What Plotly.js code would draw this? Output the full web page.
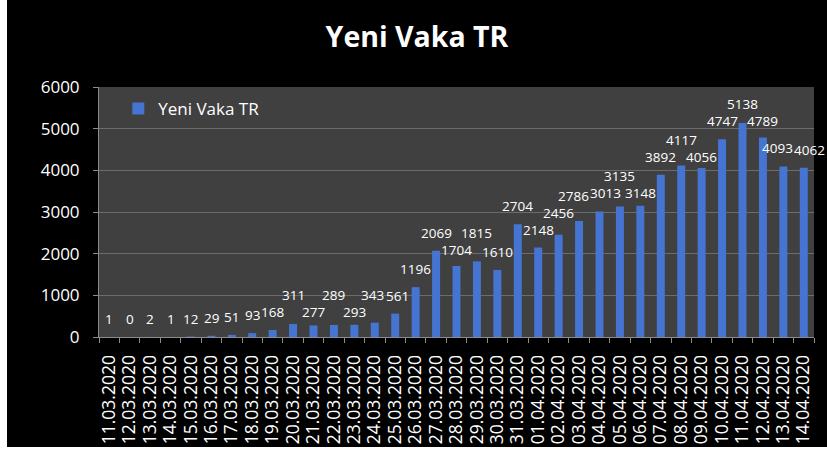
<!DOCTYPE html>
<html>
<head>
<meta charset="utf-8">
<script src="https://cdn.plot.ly/plotly-3.0.1.min.js"></script>
<style>
  html, body { margin: 0; padding: 0; background: #ffffff; width: 827px; height: 451px; overflow: hidden; }
  #chart { position: absolute; left: 7px; top: 0; width: 820px; height: 447px; }
</style>
</head>
<body>
<div id="chart"></div>
<script>
const dates = ["11.03.2020","12.03.2020","13.03.2020","14.03.2020","15.03.2020","16.03.2020","17.03.2020","18.03.2020","19.03.2020","20.03.2020","21.03.2020","22.03.2020","23.03.2020","24.03.2020","25.03.2020","26.03.2020","27.03.2020","28.03.2020","29.03.2020","30.03.2020","31.03.2020","01.04.2020","02.04.2020","03.04.2020","04.04.2020","05.04.2020","06.04.2020","07.04.2020","08.04.2020","09.04.2020","10.04.2020","11.04.2020","12.04.2020","13.04.2020","14.04.2020"];
const newCases = [1,0,2,1,12,29,51,93,168,311,277,289,293,343,561,1196,2069,1704,1815,1610,2704,2148,2456,2786,3013,3135,3148,3892,4117,4056,4747,5138,4789,4093,4062];
const seriesName = "Yeni Vaka TR";
const chartTitle = "Yeni Vaka TR";
const yTicks = [0,1000,2000,3000,4000,5000,6000];

const FONT = "'Open Sans', 'Noto Sans', sans-serif";
const Y_MAX = 6000;

// geometry used only to keep data labels from colliding (like Excel's label placement)
const PLOT_W = 820 - 92 - 13;
const PLOT_H = 447 - 87 - 110;
const catStep = PLOT_W / dates.length;
const DIGIT_W = 7.8, MIN_GAP = 17, DEFAULT_SHIFT = 8, MIN_SHIFT = -1, MAX_RAISE = 12;

const placed = [];
newCases.forEach((v, i) => {
  const p = v / Y_MAX * PLOT_H;
  const w = String(v).length * DIGIT_W;
  const def = p + DEFAULT_SHIFT;
  let b = def, xs = 0;
  const prev = placed[i - 1];
  if (prev) {
    const hOver = (w + prev.w) / 2 - (catStep + xs - prev.xs);
    if (hOver > 0 && Math.abs(b - prev.b) < MIN_GAP) {
      if (prev.b - MIN_GAP >= p + MIN_SHIFT) {
        b = prev.b - MIN_GAP;                     // tuck below the previous label
      } else if (Math.max(b, prev.b + MIN_GAP) - def <= MAX_RAISE || prev.xs !== 0) {
        b = Math.max(b, prev.b + MIN_GAP);        // lift above the previous label
      } else {
        const d = hOver + 1;                      // spread the two labels sideways
        prev.xs = -d / 2;
        xs = d / 2;
      }
    }
  }
  placed.push({ p: p, b: b, w: w, xs: xs });
});

const trace = {
  type: "bar",
  x: dates,
  y: newCases,
  name: seriesName,
  marker: { color: "#4674d2", line: { width: 0 } },
  hoverinfo: "x+y"
};

const labels = dates.map((d, i) => ({
  x: d,
  y: newCases[i],
  xref: "x", yref: "y",
  text: String(newCases[i]),
  showarrow: false,
  yanchor: "bottom",
  yshift: placed[i].b - placed[i].p,
  xshift: placed[i].xs,
  borderpad: 0,
  font: { family: FONT, size: 13.5, color: "#ffffff" }
}));

const layout = {
  width: 820,
  height: 447,
  paper_bgcolor: "#000000",
  plot_bgcolor: "#404040",
  margin: { l: 92, r: 13, t: 87, b: 110, pad: 0, autoexpand: false },
  title: {
    text: "<b>" + chartTitle + "</b>",
    font: { family: FONT, size: 28.5, color: "#ffffff" },
    x: 0.5, xanchor: "center",
    y: 1 - 37 / 447, yanchor: "middle"
  },
  bargap: 0.61,
  showlegend: true,
  legend: {
    x: 0.027, xanchor: "left",
    y: 0.912, yanchor: "middle",
    bgcolor: "rgba(0,0,0,0)",
    font: { family: FONT, size: 17, color: "#ffffff" },
    itemwidth: 30
  },
  annotations: labels,
  xaxis: {
    type: "category",
    range: [-0.5, dates.length - 0.5],
    autorange: false,
    tickmode: "array",
    tickvals: dates,
    ticktext: dates,
    tickangle: -90,
    tickfont: { family: FONT, size: 17.5, color: "#ffffff" },
    showline: true, linecolor: "#8c8c8c", linewidth: 1,
    ticks: "outside", tickson: "boundaries", ticklen: 5, tickcolor: "#8c8c8c",
    ticklabelstandoff: 10,
    showgrid: false,
    automargin: false,
    fixedrange: true
  },
  yaxis: {
    range: [0, Y_MAX],
    autorange: false,
    tickvals: yTicks,
    ticktext: yTicks.map(String),
    tickfont: { family: FONT, size: 17, color: "#ffffff" },
    showline: true, linecolor: "#8c8c8c", linewidth: 1,
    ticks: "outside", ticklen: 5, tickcolor: "#8c8c8c",
    ticklabelstandoff: 10,
    gridcolor: "#6c6c6c", gridwidth: 1,
    zeroline: false,
    automargin: false,
    fixedrange: true
  }
};

Plotly.newPlot("chart", [trace], layout, { displayModeBar: false, staticPlot: true });
</script>
</body>
</html>
